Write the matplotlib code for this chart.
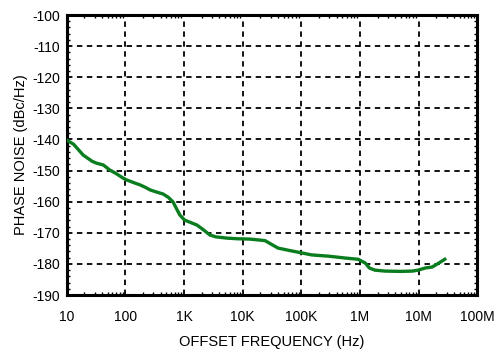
#!/usr/bin/env python3
"""Phase noise vs. offset frequency, single trace on log-x grid."""

import matplotlib

matplotlib.use("Agg")
import matplotlib.pyplot as plt
from matplotlib.ticker import FixedLocator, LogLocator, MultipleLocator, NullFormatter

plt.rcParams["font.family"] = ["Liberation Sans", "DejaVu Sans"]
plt.rcParams["axes.unicode_minus"] = False

# offset frequency (Hz) and phase noise (dBc/Hz)
freq_hz = [
    10, 13, 19, 27, 32, 42, 54, 70, 91, 105, 140, 178, 220, 263, 340, 436,
    540, 650, 750, 850, 1020, 1300, 1660, 2200, 2750, 3500, 5400, 8000,
    13000, 24000, 40000, 60000, 87000, 150000, 290000, 560000, 930000,
    1230000, 1450000, 1800000, 2700000, 5000000, 7800000, 9800000,
    13000000, 17000000, 21000000, 28000000,
]
noise_dbc = [
    -140.2, -141.5, -145.0, -147.0, -147.6, -148.2, -149.8, -151.0, -152.4,
    -153.0, -153.9, -154.6, -155.4, -156.2, -156.9, -157.5, -158.6, -160.1,
    -162.4, -164.3, -165.9, -166.7, -167.5, -169.2, -170.7, -171.3, -171.7,
    -171.9, -172.0, -172.5, -174.9, -175.6, -176.2, -177.1, -177.5, -178.1,
    -178.5, -179.7, -181.3, -182.0, -182.3, -182.4, -182.3, -182.0, -181.3,
    -181.0, -180.0, -178.5,
]

x_ticks = [10, 100, 1e3, 1e4, 1e5, 1e6, 1e7, 1e8]
x_labels = ["10", "100", "1K", "10K", "100K", "1M", "10M", "100M"]
y_ticks = list(range(-190, -99, 10))


def main() -> None:
    fig = plt.figure(figsize=(4.95, 3.5), dpi=100)
    ax = fig.add_axes([0.135, 0.157, 0.829, 0.8])

    ax.semilogx(freq_hz, noise_dbc, color="#0a7d1e", lw=2.4, zorder=3)

    ax.set_xlim(10, 1e8)
    ax.set_ylim(-190, -100)
    ax.xaxis.set_major_locator(FixedLocator(x_ticks))
    ax.set_xticklabels(x_labels)
    ax.xaxis.set_minor_locator(LogLocator(base=10, subs=range(2, 10), numticks=20))
    ax.xaxis.set_minor_formatter(NullFormatter())
    ax.set_yticks(y_ticks)
    ax.yaxis.set_minor_locator(MultipleLocator(2))

    ax.grid(True, which="major", color="black", lw=1.3, linestyle=(0, (3, 2.5)))
    for s in ax.spines.values():
        s.set_linewidth(2.2)

    ax.tick_params(which="both", direction="in", top=True, right=True,
                   labelsize=10, color="black")
    ax.tick_params(axis="x", which="major", length=0, pad=11)
    ax.tick_params(axis="y", which="major", length=0, pad=5)
    ax.tick_params(which="minor", length=2.5, width=1.0)

    ax.set_xlabel("OFFSET FREQUENCY (Hz)", fontsize=10.5, labelpad=8)
    ax.set_ylabel("PHASE NOISE (dBc/Hz)", fontsize=10.5, labelpad=3)

    fig.savefig("out.png", dpi=100)


if __name__ == "__main__":
    main()
